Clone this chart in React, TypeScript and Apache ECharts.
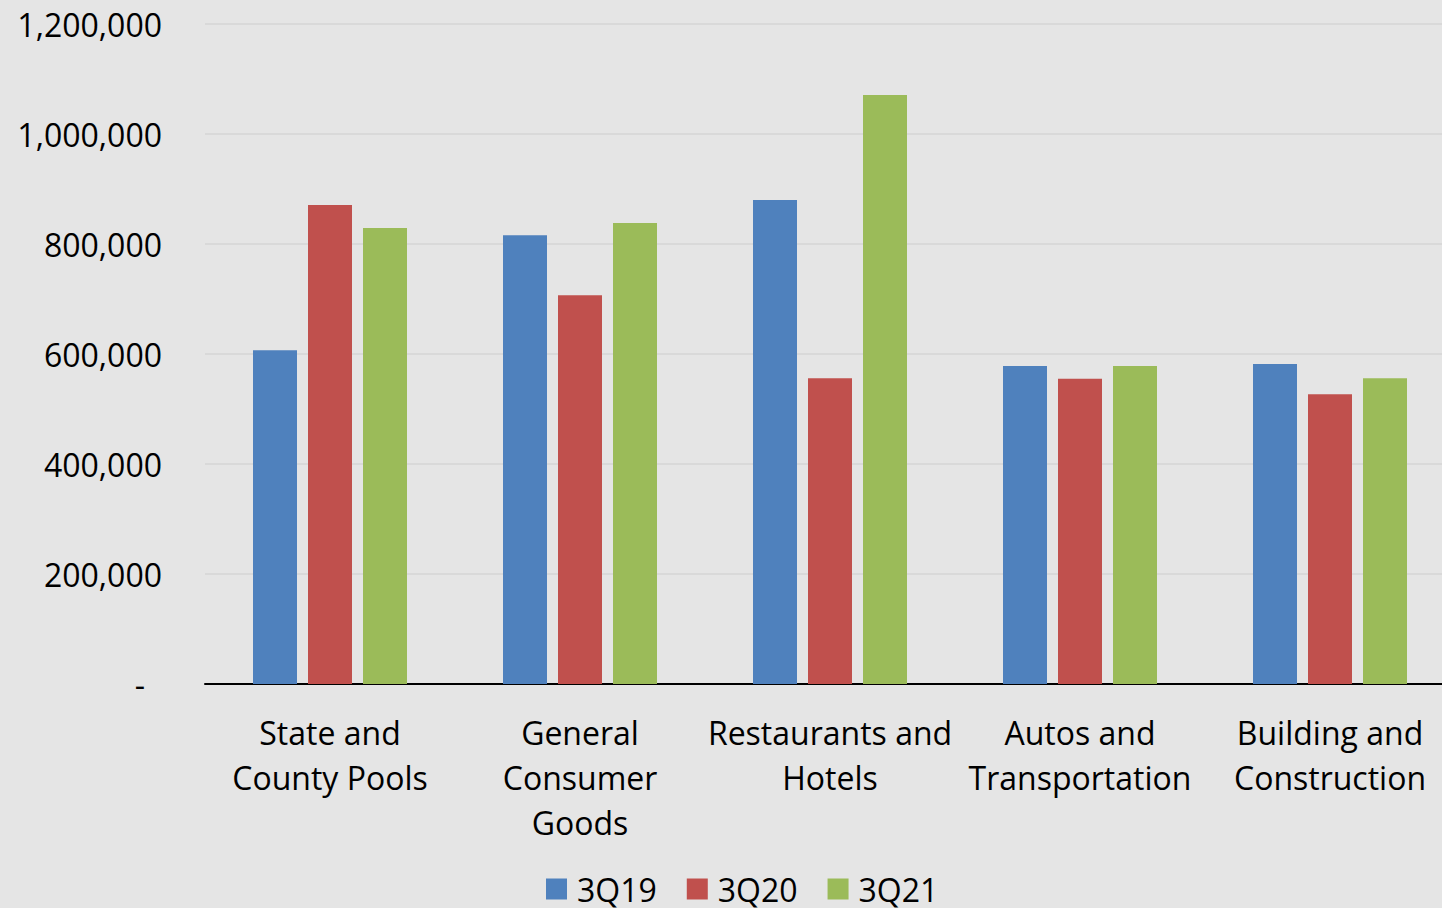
import React, { useEffect, useRef } from "react";
import * as echarts from "echarts";

const categories = [
  "State and\nCounty Pools",
  "General\nConsumer\nGoods",
  "Restaurants and\nHotels",
  "Autos and\nTransportation",
  "Building and\nConstruction",
];
const seriesNames = ["3Q19", "3Q20", "3Q21"];
const values3Q19 = [607000, 816000, 880000, 578000, 582000];
const values3Q20 = [871000, 707000, 556000, 555000, 527000];
const values3Q21 = [829000, 838000, 1071000, 578000, 556000];
const colors = ["#4f81bd", "#c0504d", "#9bbb59"];

export default function App() {
  const ref = useRef<HTMLDivElement>(null);
  useEffect(() => {
    if (!ref.current) return;
    const chart = echarts.init(ref.current, null, { renderer: "svg" });
    const font = "'Open Sans', 'Noto Sans', sans-serif";
    const fs = 32;
    const data = [values3Q19, values3Q20, values3Q21];
    chart.setOption({
      animation: false,
      backgroundColor: "#e5e5e5",
      textStyle: { fontFamily: font },
      grid: { left: 205, right: 0, top: 24, bottom: 224, containLabel: false },
      legend: {
        top: 868,
        left: 541,
        itemWidth: 21,
        itemHeight: 21,
        itemGap: 30,
        icon: "rect",
        textStyle: { fontSize: fs, color: "#000", fontFamily: font, padding: [0, 0, 0, 5] },
        data: seriesNames,
      },
      xAxis: {
        type: "category",
        data: categories,
        axisLine: { lineStyle: { color: "#000", width: 2 } },
        axisTick: { show: false },
        axisLabel: {
          interval: 0,
          color: "#000",
          fontSize: fs,
          lineHeight: 45,
          margin: 26,
          fontFamily: font,
        },
      },
      yAxis: {
        type: "value",
        min: 0,
        max: 1200000,
        interval: 200000,
        axisLine: { show: false },
        axisTick: { show: false },
        splitLine: { lineStyle: { color: "#d9d9d9", width: 2 } },
        axisLabel: {
          color: "#000",
          fontSize: fs,
          margin: 43,
          fontFamily: font,
          formatter: (v: number) =>
            v === 0 ? "{dash|-}" : v.toLocaleString("en-US"),
          rich: {
            dash: { fontSize: fs, color: "#000", padding: [0, 17, 0, 0], fontFamily: font },
          },
        },
      },
      series: seriesNames.map((name, i) => ({
        name,
        type: "bar",
        data: data[i],
        barWidth: 44,
        barGap: "25%",
        itemStyle: { color: colors[i] },
      })),
    });
    return () => chart.dispose();
  }, []);
  return (
    <div
      style={{
        position: "fixed",
        left: 0,
        top: 0,
        width: 1442,
        height: 908,
        overflow: "hidden",
        background: "#e5e5e5",
      }}
    >
      <div ref={ref} style={{ width: 1455, height: 908 }} />
    </div>
  );
}
